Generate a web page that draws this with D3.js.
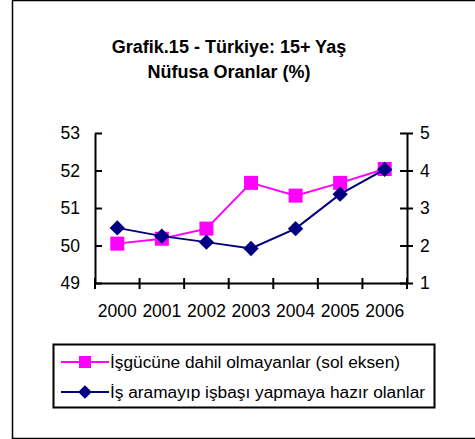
<!DOCTYPE html>
<html>
<head>
<meta charset="utf-8">
<script src="https://cdn.jsdelivr.net/npm/d3@7"></script>
<style>
    body { margin: 0; background: #fff; }
    svg { display: block; font-family: "Liberation Sans", Arial, sans-serif; }
</style>
</head>
<body>
<div id="chart"></div>
<script>
    const years = ["2000", "2001", "2002", "2003", "2004", "2005", "2006"];
    const notInLabour = [50.05, 50.18, 50.45, 51.67, 51.33, 51.67, 52.04];   // sol eksen
    const readyToWork = [2.47, 2.25, 2.09, 1.92, 2.45, 3.37, 4.03];          // sağ eksen
    const leftTicks = [49, 50, 51, 52, 53];
    const rightTicks = [1, 2, 3, 4, 5];
    const titleLines = ["Grafik.15 - Türkiye: 15+ Yaş", "Nüfusa Oranlar (%)"];
    const legendLabels = ["İşgücüne dahil olmayanlar (sol eksen)", "İş aramayıp işbaşı yapmaya hazır olanlar"];

    const width = 475, height = 439;
    const pink = "#ff00ff", navy = "#000080";
    const plot = {left: 95, right: 407, top: 133, bottom: 283};

    const svg = d3.select("#chart").append("svg")
        .attr("width", width)
        .attr("height", height);

    // outer frame (right edge falls outside the picture)
    svg.append("path")
        .attr("d", `M${width + 2},0.5 H12.5 V438.5 H${width + 2}`)
        .attr("fill", "none")
        .attr("stroke", "#000")
        .attr("stroke-width", 1.5);

    svg.append("text")
        .attr("text-anchor", "middle")
        .attr("font-weight", "bold")
        .attr("font-size", 18)
        .selectAll("tspan")
        .data(titleLines)
        .join("tspan")
        .attr("x", 229)
        .attr("y", (d, i) => 53 + i * 25)
        .text(d => d);

    const x = d3.scaleBand()
        .domain(years)
        .range([plot.left, plot.right]);

    const yLeft = d3.scaleLinear()
        .domain([49, 53])
        .range([plot.bottom, plot.top]);

    const yRight = d3.scaleLinear()
        .domain([1, 5])
        .range([plot.bottom, plot.top]);

    const styleAxis = g => {
        g.select(".domain").attr("stroke-width", 2);
        g.selectAll(".tick line").attr("stroke-width", 2);
        g.selectAll(".tick text").attr("font-size", 17.5).attr("fill", "#000");
    };

    svg.append("g")
        .attr("transform", `translate(${plot.left},0)`)
        .call(d3.axisLeft(yLeft).tickValues(leftTicks).tickFormat(d3.format("d")).tickSize(6).tickSizeOuter(0).tickPadding(9))
        .call(styleAxis)
        .call(g => g.selectAll(".tick line").attr("x2", 7));

    svg.append("g")
        .attr("transform", `translate(${plot.right},0)`)
        .call(d3.axisRight(yRight).tickValues(rightTicks).tickFormat(d3.format("d")).tickSize(6).tickSizeOuter(0).tickPadding(7))
        .call(styleAxis)
        .call(g => g.selectAll(".tick line").attr("x1", -7));

    svg.append("g")
        .attr("transform", `translate(0,${plot.bottom})`)
        .call(d3.axisBottom(x).tickSize(0).tickSizeOuter(0).tickPadding(22))
        .call(styleAxis);

    // category boundary ticks crossing the x axis
    svg.append("g")
        .selectAll("line")
        .data(years.concat(["end"]))
        .join("line")
        .attr("x1", (d, i) => i < years.length ? x(d) : x.range()[1])
        .attr("x2", (d, i) => i < years.length ? x(d) : x.range()[1])
        .attr("y1", plot.bottom - 5)
        .attr("y2", plot.bottom + 6)
        .attr("stroke", "#000")
        .attr("stroke-width", 2);

    const cx = d => x(d) + x.bandwidth() / 2;

    const lineLeft = d3.line()
        .x((d, i) => cx(years[i]))
        .y(d => yLeft(d));

    const lineRight = d3.line()
        .x((d, i) => cx(years[i]))
        .y(d => yRight(d));

    svg.append("path")
        .datum(notInLabour)
        .attr("d", lineLeft)
        .attr("fill", "none")
        .attr("stroke", pink)
        .attr("stroke-width", 2);

    svg.selectAll(".sq")
        .data(notInLabour)
        .join("rect")
        .attr("class", "sq")
        .attr("x", (d, i) => cx(years[i]) - 7)
        .attr("y", d => yLeft(d) - 7)
        .attr("width", 14)
        .attr("height", 14)
        .attr("fill", pink);

    svg.append("path")
        .datum(readyToWork)
        .attr("d", lineRight)
        .attr("fill", "none")
        .attr("stroke", navy)
        .attr("stroke-width", 2);

    const diamond = d3.symbol().type(d3.symbolDiamond2).size(150);

    svg.selectAll(".dm")
        .data(readyToWork)
        .join("path")
        .attr("class", "dm")
        .attr("d", diamond)
        .attr("transform", (d, i) => `translate(${cx(years[i])},${yRight(d)})`)
        .attr("fill", navy);

    // legend
    const lgX = 53.5, lgY = 344.5, lgW = 381, lgH = 63;

    svg.append("clipPath")
        .attr("id", "lgclip")
        .append("rect")
        .attr("x", lgX)
        .attr("y", lgY)
        .attr("width", lgW - 1)
        .attr("height", lgH);

    svg.append("rect")
        .attr("x", lgX)
        .attr("y", lgY)
        .attr("width", lgW)
        .attr("height", lgH)
        .attr("fill", "#fff")
        .attr("stroke", "#000")
        .attr("stroke-width", 2);

    const legend = svg.append("g")
        .attr("clip-path", "url(#lgclip)");

    const colors = [pink, navy];
    const rows = legend.selectAll(".row")
        .data(legendLabels)
        .join("g")
        .attr("class", "row")
        .attr("transform", (d, i) => `translate(0,${362 + i * 30})`);

    rows.append("line")
        .attr("x1", 61)
        .attr("x2", 109)
        .attr("stroke", (d, i) => colors[i])
        .attr("stroke-width", 2);

    rows.filter((d, i) => i === 0).append("rect")
        .attr("x", 79)
        .attr("y", -6)
        .attr("width", 12)
        .attr("height", 12)
        .attr("fill", pink);

    rows.filter((d, i) => i === 1).append("path")
        .attr("d", d3.symbol().type(d3.symbolDiamond2).size(120))
        .attr("transform", "translate(85,0)")
        .attr("fill", navy);

    rows.append("text")
        .attr("x", 110)
        .attr("dy", "0.35em")
        .attr("font-size", 17.3)
        .text(d => d);
</script>
</body>
</html>
